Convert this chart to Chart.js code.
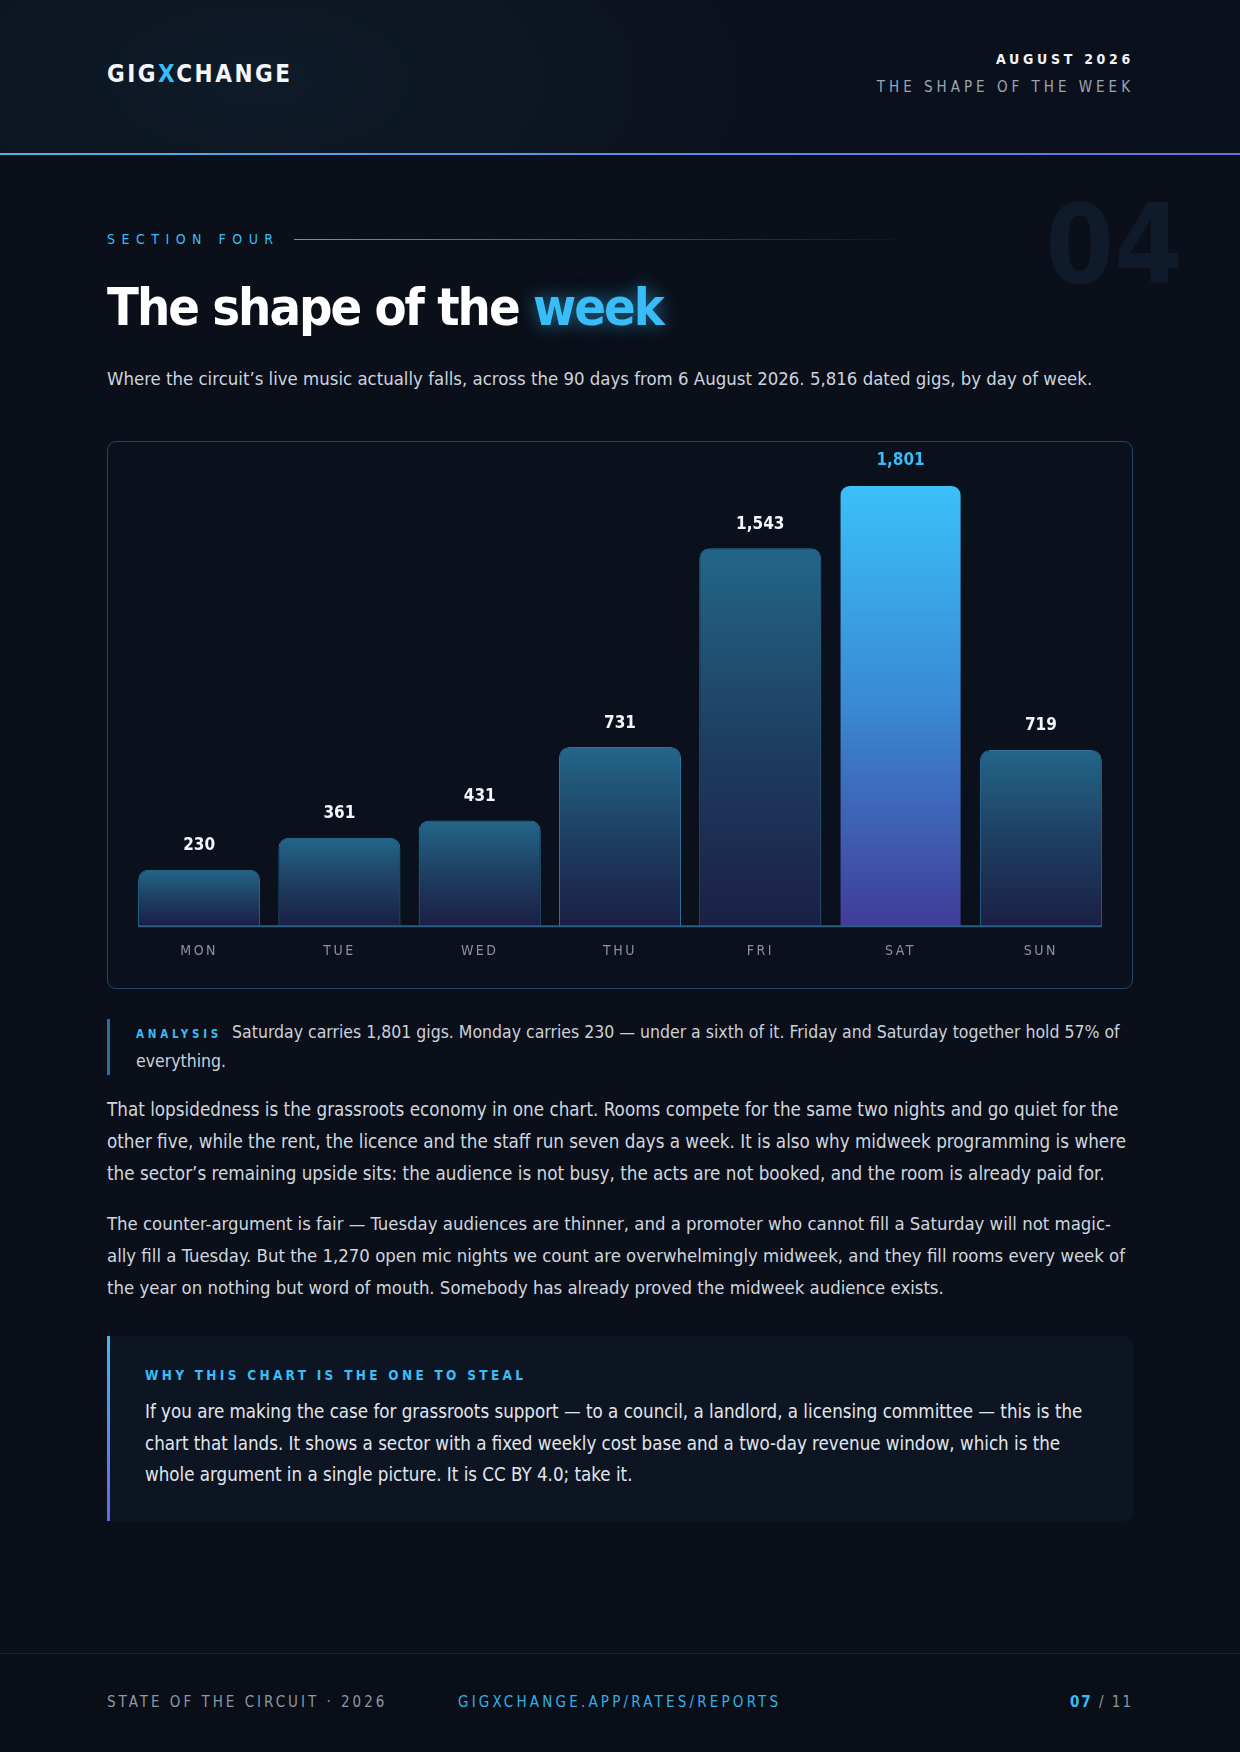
<!DOCTYPE html>
<html>
<head>
<meta charset="utf-8">
<script src="https://cdn.jsdelivr.net/npm/chart.js@4.4.1/dist/chart.umd.min.js"></script>
<style>
  * { box-sizing: border-box; margin: 0; padding: 0; }
  body {
    width: 1240px; height: 1752px; overflow: hidden;
    background: #0a0f19;
    font-family: "Liberation Sans Narrow", "DejaVu Sans Condensed", Roboto, sans-serif;
    color: #d3d9e2;
  }
  .page { position: relative; width: 1240px; height: 1752px; }
  .abs { position: absolute; }

  header {
    position: absolute; left: 0; top: 0; width: 1240px; height: 154px;
    background: radial-gradient(ellipse 520px 260px at 260px 80px, #0f1b29 0%, rgba(15,27,41,0) 100%), #0b111c;
  }
  .hline {
    position: absolute; left: 0; top: 153px; width: 1240px; height: 2px;
    background: linear-gradient(90deg, #4fb3e6, #6870e0);
  }
  .logo { left: 107px; top: 62px; font-size: 24px; line-height: 24px; font-weight: 700; letter-spacing: 2.5px; color: #f4f6fa; }
  .logo span { color: #38bdf8; }
  .issue { right: 106px; top: 52px; font-size: 14px; line-height: 15px; font-weight: 700; letter-spacing: 3.7px; color: #f1f4f8; text-align: right; }
  .issue-sub { right: 106px; top: 79px; font-size: 15px; line-height: 16px; letter-spacing: 4px; color: #9ba5b4; text-align: right; }

  .ghost { right: 57px; top: 190px; font-size: 110px; line-height: 110px; font-weight: 700; color: #0f1b2b; }
  .kicker { left: 107px; top: 231px; font-size: 14px; line-height: 16px; letter-spacing: 6.5px; color: #38bdf8; }
  .kline { left: 294px; top: 239px; width: 600px; height: 1px; background: linear-gradient(90deg, #3aa7dc, rgba(58,167,220,0.05)); }
  .title { left: 107px; top: 281px; font-size: 52px; line-height: 52px; font-weight: 700; color: #ffffff; letter-spacing: -2px; }
  .title span { color: #38bdf8; text-shadow: 0 0 18px rgba(56,189,248,0.55); }
  .sub { left: 107px; top: 365px; width: 1040px; font-size: 18.45px; line-height: 28px; color: #cdd4de; }

  .card {
    left: 107px; top: 441px; width: 1026px; height: 548px;
    border: 1px solid #1d4764; border-radius: 9px; background: #0b111c;
  }
  .card canvas { position: absolute; left: 0; top: 0; }

  .analysis {
    left: 107px; top: 1019px; width: 1030px; padding-left: 26px;
    border-left: 3px solid #2a6f98;
    font-size: 17.5px; line-height: 27px; color: #cbd2dc;
  }
  .analysis b { font-size: 11.5px; letter-spacing: 3.8px; color: #38bdf8; margin-right: 5px; }

  .para { left: 107px; line-height: 32px; color: #d0d6df; }
  .p1 { top: 1094px; width: 1040px; font-size: 18.7px; }
  .p2 { top: 1208px; width: 1021px; font-size: 18.4px; }

  .callout {
    left: 107px; top: 1336px; width: 1026px; height: 185px;
    border-radius: 0 8px 8px 0; background: #0d1422;
    padding: 30px 36px 0 38px;
  }
  .callout::before {
    content: ""; position: absolute; left: 0; top: 0; width: 3px; height: 100%;
    background: linear-gradient(180deg, #38bdf8, #6366f1);
  }
  .callout h4 { font-size: 13.5px; line-height: 18px; letter-spacing: 3.3px; color: #38bdf8; font-weight: 700; margin-bottom: 12px; }
  .callout p { font-size: 18.6px; line-height: 31.5px; color: #e1e6ed; }

  footer {
    position: absolute; left: 0; top: 1653px; width: 1240px; height: 99px;
    border-top: 1px solid #1b2330; background: #090e17;
  }
  .foot { top: 40px; font-size: 15px; line-height: 16px; letter-spacing: 3px; }
  .f1 { left: 107px; color: #8d97a6; }
  .f2 { left: 458px; color: #38aee6; letter-spacing: 3.2px; }
  .f3 { right: 107px; color: #8d97a6; letter-spacing: 2px; }
  .f3 b { color: #38bdf8; }
</style>
</head>
<body>
<div class="page">
  <header>
    <div class="abs logo">GIG<span>X</span>CHANGE</div>
    <div class="abs issue">AUGUST 2026</div>
    <div class="abs issue-sub">THE SHAPE OF THE WEEK</div>
  </header>
  <div class="hline"></div>

  <div class="abs ghost">04</div>
  <div class="abs kicker">SECTION FOUR</div>
  <div class="abs kline"></div>
  <div class="abs title">The shape of the <span>week</span></div>
  <div class="abs sub">Where the circuit’s live music actually falls, across the 90 days from 6 August 2026. 5,816 dated gigs, by day of week.</div>

  <div class="abs card">
    <canvas id="week-chart" width="1024" height="546"></canvas>
  </div>

  <div class="abs analysis"><b>ANALYSIS</b> Saturday carries 1,801 gigs. Monday carries 230 — under a sixth of it. Friday and Saturday together hold 57% of everything.</div>

  <div class="abs para p1">That lopsidedness is the grassroots economy in one chart. Rooms compete for the same two nights and go quiet for the other five, while the rent, the licence and the staff run seven days a week. It is also why midweek programming is where the sector’s remaining upside sits: the audience is not busy, the acts are not booked, and the room is already paid for.</div>
  <div class="abs para p2">The counter-argument is fair — Tuesday audiences are thinner, and a promoter who cannot fill a Saturday will not magic­ally fill a Tuesday. But the 1,270 open mic nights we count are overwhelmingly midweek, and they fill rooms every week of the year on nothing but word of mouth. Somebody has already proved the midweek audience exists.</div>

  <div class="abs callout">
    <h4>WHY THIS CHART IS THE ONE TO STEAL</h4>
    <p>If you are making the case for grassroots support — to a council, a landlord, a licensing committee — this is the chart that lands. It shows a sector with a fixed weekly cost base and a two-day revenue window, which is the whole argument in a single picture. It is CC BY 4.0; take it.</p>
  </div>

  <footer>
    <div class="abs foot f1">STATE OF THE CIRCUIT · 2026</div>
    <div class="abs foot f2">GIGXCHANGE.APP/RATES/REPORTS</div>
    <div class="abs foot f3"><b>07</b> / 11</div>
  </footer>
</div>

<script>
// gigs by day of week, 90 days from 6 Aug 2026
const days = ["MON", "TUE", "WED", "THU", "FRI", "SAT", "SUN"];
const gigs = [230, 361, 431, 731, 1543, 1801, 719];
const peakDay = "SAT";

const weekCanvas = document.getElementById("week-chart");
const chartFont = '"Liberation Sans Narrow", "DejaVu Sans Condensed", Roboto, sans-serif';

function barFill(ctx) {
    const chart = ctx.chart;
    if (!chart.chartArea) return '#1f4a6e';
    const y = chart.scales.y;
    const top = y.getPixelForValue(ctx.raw);
    const bottom = y.getPixelForValue(0);
    const g = chart.ctx.createLinearGradient(0, top, 0, bottom);
    if (days[ctx.dataIndex] === peakDay) {
        g.addColorStop(0, '#3bc0f8');
        g.addColorStop(0.5, '#3a89d2');
        g.addColorStop(1, '#413c98');
    } else {
        g.addColorStop(0, '#236689');
        g.addColorStop(0.5, '#1e3f62');
        g.addColorStop(1, '#1b1f45');
    }
    return g;
}

// spaced-out axis text
const spacing = {
    id: 'spacing',
    beforeDraw(chart) { chart.ctx.letterSpacing = '2.5px'; },
    afterDraw(chart) { chart.ctx.letterSpacing = '0px'; }
};

// baseline under the bars + value labels on top
const barLabels = {
    id: 'barLabels',
    afterDatasetsDraw(chart) {
        const ctx = chart.ctx;
        const bars = chart.getDatasetMeta(0).data;
        const zero = chart.scales.y.getPixelForValue(0);
        ctx.save();
        ctx.letterSpacing = '0px';
        const first = bars[0], last = bars[bars.length - 1];
        ctx.strokeStyle = '#2a5d82';
        ctx.lineWidth = 2;
        ctx.beginPath();
        ctx.moveTo(first.x - first.width / 2, zero);
        ctx.lineTo(last.x + last.width / 2, zero);
        ctx.stroke();

        ctx.font = 'bold 17px ' + chartFont;
        ctx.textAlign = 'center';
        ctx.textBaseline = 'middle';
        bars.forEach((bar, i) => {
            ctx.fillStyle = days[i] === peakDay ? '#38bdf8' : '#f4f6fa';
            ctx.fillText(gigs[i].toLocaleString('en-US'), bar.x, bar.y - 24);
        });
        ctx.restore();
    }
};

let weekChart = new Chart(weekCanvas, {
    type: 'bar',
    data: {
        labels: days,
        datasets: [{
            data: gigs,
            backgroundColor: barFill,
            borderColor: days.map(d => d === peakDay ? 'rgba(56,189,248,0)' : '#2b739c'),
            borderWidth: 1,
            borderSkipped: 'bottom',
            borderRadius: { topLeft: 10, topRight: 10 },
            barPercentage: 0.87,
            categoryPercentage: 1
        }]
    },
    options: {
        responsive: false,
        animation: false,
        layout: { padding: { left: 21, right: 21, top: 43, bottom: 11 } },
        scales: {
            x: {
                grid: { display: false, drawTicks: false },
                border: { display: false },
                ticks: { color: '#8a93a2', font: { family: chartFont, size: 14 }, padding: 17 }
            },
            y: {
                display: false,
                min: 0,
                max: Math.max(...gigs)
            }
        },
        plugins: {
            legend: { display: false },
            tooltip: { enabled: false }
        }
    },
    plugins: [spacing, barLabels]
});
</script>
</body>
</html>
